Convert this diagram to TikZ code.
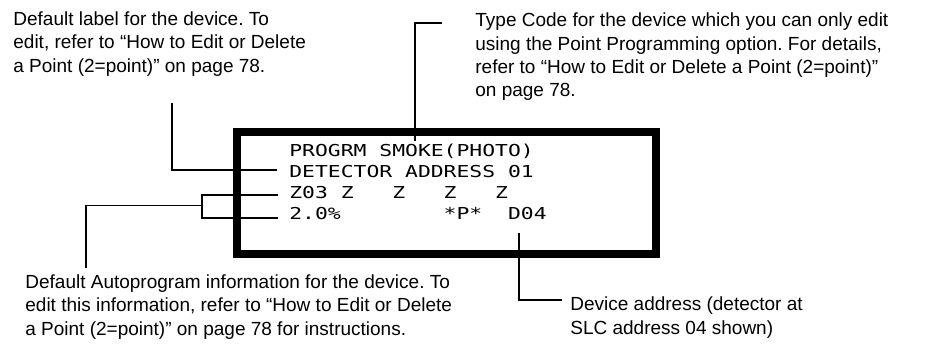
\documentclass[tikz,border=0pt]{standalone}
\usepackage{fontspec}
\setmainfont{Liberation Sans}
\newfontfamily\lcdfont[FakeStretch=1.3]{DejaVu Sans Mono}
\usetikzlibrary{positioning}
\tikzset{
  note/.style={anchor=base west, align=left, inner sep=0pt, font=\fontsize{10}{12.2}\selectfont\frenchspacing},
  lcdline/.style={anchor=base west, inner sep=0pt, font=\lcdfont\fontsize{8.65}{10}\selectfont},
  leader/.style={line width=1pt},
  thinleader/.style={line width=0.6pt},
}

\begin{document}
\begin{tikzpicture}[x=0.5263pt,y=-0.5263pt]
\useasboundingbox (0,0) rectangle (939,352);

% the notes round the display (placed by the baseline of their last line)
\node[note] (lbl) at (13,72) {Default label for the device. To\\edit, refer to “How to Edit or Delete\\a Point (2=point)” on page 78.};
\node[note] (typecode) at (475,96.5) {Type Code for the device which you can only edit\\using the Point Programming option. For details,\\refer to “How to Edit or Delete a Point (2=point)”\\on page 78.};
\node[note] (auto) at (25,335) {Default Autoprogram information for the device. To\\edit this information, refer to “How to Edit or Delete\\a Point (2=point)” on page 78 for instructions.};
\node[note] (addr) at (570,334) {Device address (detector at\\SLC address 04 shown)};

% the display
\draw[line width=4.7pt] (237,132) rectangle (656,254);
\node[lcdline] (l1) at (289,156.5) {PROGRM~SMOKE(PHOTO)};
\node[lcdline] (l2) at (289,177) {DETECTOR~ADDRESS~01};
\node[lcdline] (l3) at (289,198) {Z03~Z~~~Z~~~Z~~~Z};
\node[lcdline] (l4) at (289,219) {2.0\%~~~~~~~~*P*~~D04};

% leader ends
\coordinate (lblfoot) at (172,103);
\coordinate (l2tip) at (277,170);
\coordinate (typefoot) at (441.7,22.7);
\coordinate (l1tip) at (415,141);
\coordinate (l3tip) at (278,195);
\coordinate (l4tip) at (278,218);
\coordinate (bracket) at (202,205.5);
\coordinate (autotop) at (86,268);
\coordinate (d04tip) at (519,233);
\coordinate (addrtip) at (561.7,300);

% leaders
\draw[leader] (lblfoot) |- (l2tip);
\draw[leader] (typefoot) -| (l1tip);
\draw[leader] (l3tip) -| (l4tip -| bracket) -- (l4tip);
\draw[thinleader] (bracket) -| (autotop);
\draw[leader] (d04tip) |- (addrtip);
\end{tikzpicture}
\end{document}
